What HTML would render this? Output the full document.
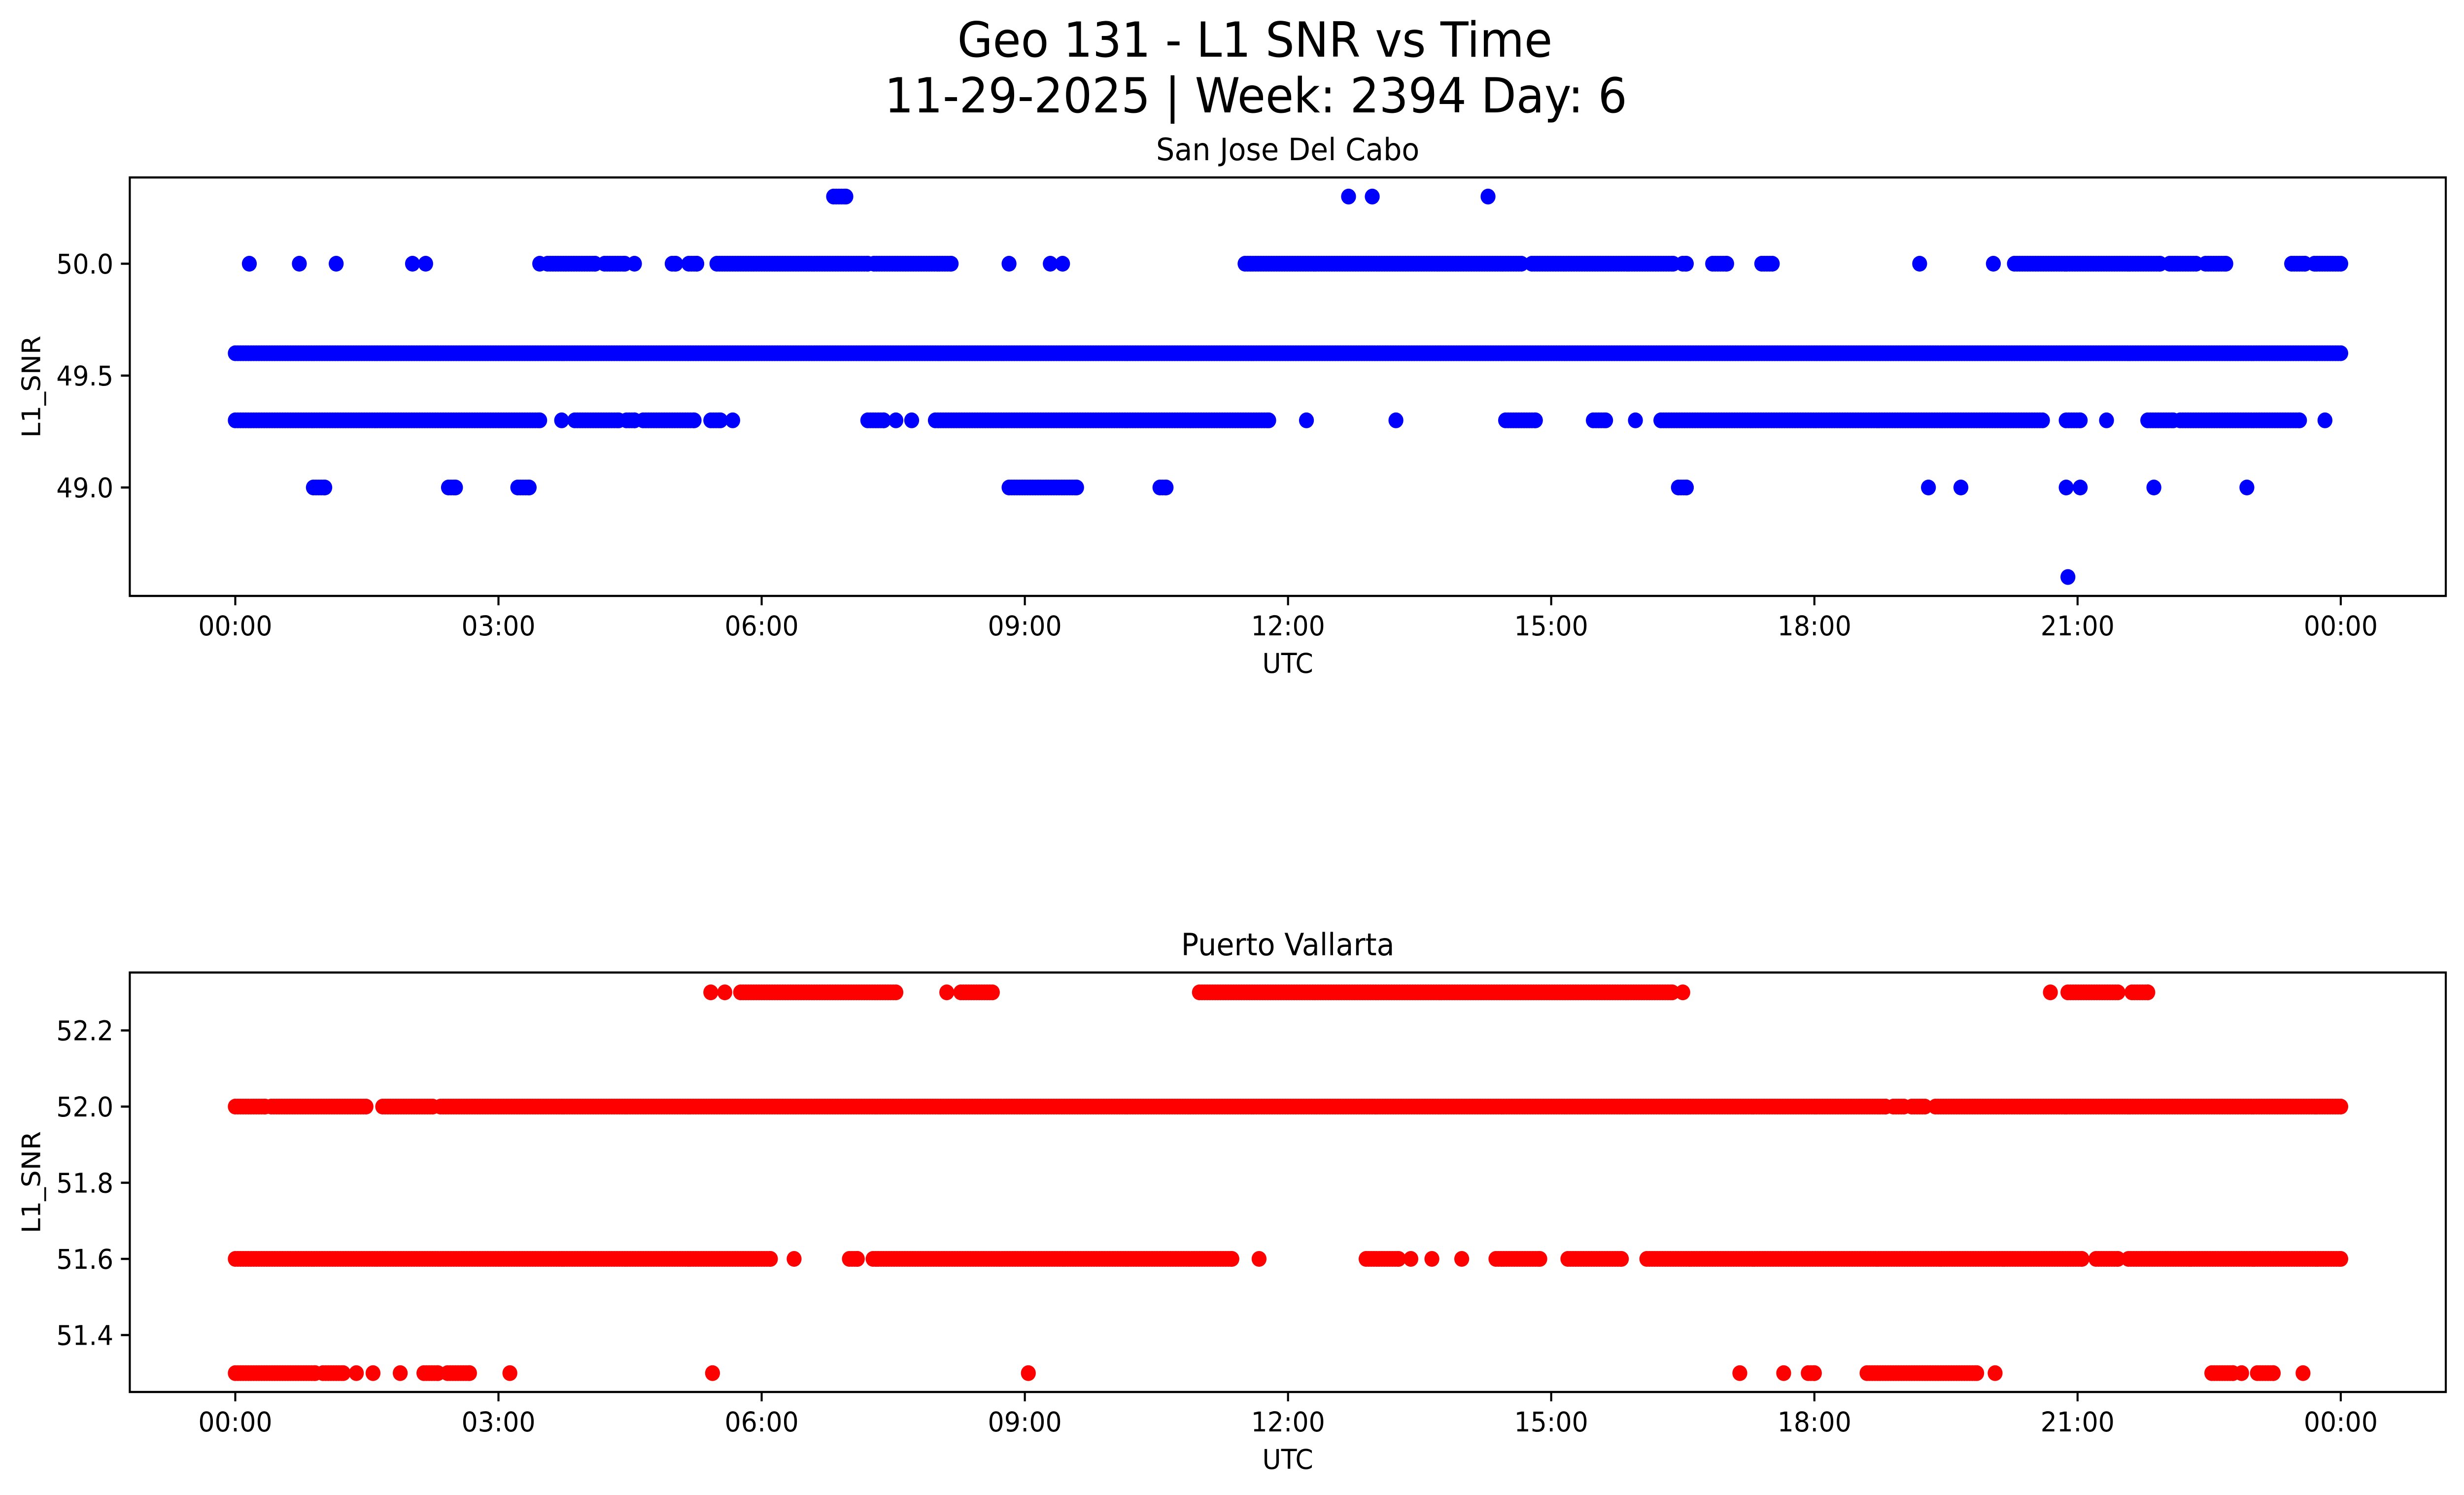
<!DOCTYPE html>
<html><head><meta charset="utf-8"><style>
html,body{margin:0;padding:0;background:#fff;overflow:hidden;width:100%;height:100%;}
svg{display:block;position:absolute;left:0;top:0;width:100vw;height:100vh;font-family:"DejaVu Sans","Liberation Sans",sans-serif;}
</style></head><body>
<svg id="fig" viewBox="0 0 5278 3033" preserveAspectRatio="none" xmlns="http://www.w3.org/2000/svg">
<rect width="5278" height="3033" fill="#fff"/>
<text x="2688" y="115" font-size="98" text-anchor="middle">Geo 131 - L1 SNR vs Time</text>
<text x="2690" y="228" font-size="98" text-anchor="middle">11-29-2025 | Week: 2394 Day: 6</text>
<g id="p1"></g>
<g id="p2"></g>
</svg>
<script>
// time ticks (hours)
const tickHours = [0,3,6,9,12,15,18,21,24];
const tickLabels = ["00:00","03:00","06:00","09:00","12:00","15:00","18:00","21:00","00:00"];
// Panel 1: San Jose Del Cabo — levels and [start,end] hour intervals
const sjLevels = [50.3, 50.0, 49.6, 49.3, 49.0, 48.6];
const sj503 = [[6.82,6.96],[12.69,12.69],[12.96,12.96],[14.28,14.28]];
const sj500 = [[0.16,0.16],[0.73,0.73],[1.15,1.15],[2.02,2.02],[2.17,2.17],[3.47,3.47],[3.56,4.10],[4.21,4.44],[4.55,4.55],[4.98,5.02],[5.17,5.26],[5.49,7.21],[7.28,8.16],[8.82,8.82],[9.29,9.29],[9.43,9.43],[11.51,14.66],[14.78,16.39],[16.50,16.54],[16.84,17.00],[17.40,17.52],[19.20,19.20],[20.04,20.04],[20.28,21.94],[22.05,22.35],[22.46,22.69],[23.44,23.59],[23.70,24]];
const sj496 = [[0,24]];
const sj493 = [[0,3.47],[3.72,3.72],[3.87,4.37],[4.46,4.55],[4.65,5.23],[5.42,5.53],[5.67,5.67],[7.21,7.39],[7.53,7.53],[7.71,7.71],[7.98,11.78],[12.21,12.21],[13.23,13.23],[14.48,14.82],[15.48,15.62],[15.96,15.96],[16.25,20.60],[20.87,21.03],[21.33,21.33],[21.80,22.09],[22.17,23.53],[23.82,23.82]];
const sj490 = [[0.89,1.02],[2.43,2.51],[3.22,3.35],[8.82,9.59],[10.54,10.61],[16.45,16.54],[19.30,19.30],[19.67,19.67],[20.87,20.87],[21.03,21.03],[21.87,21.87],[22.93,22.93]];
const sj486 = [[20.89,20.89]];
const sjSeries = [sj503, sj500, sj496, sj493, sj490, sj486];
const sjYTicks = [49.0, 49.5, 50.0];
const sjYLabels = ["49.0","49.5","50.0"];
// Panel 2: Puerto Vallarta
const pvLevels = [52.3, 52.0, 51.6, 51.3];
const pv523 = [[5.42,5.42],[5.58,5.58],[5.76,7.53],[8.11,8.11],[8.27,8.63],[10.99,16.38],[16.50,16.50],[20.69,20.69],[20.89,21.46],[21.62,21.80]];
const pv520 = [[0,0.34],[0.41,1.49],[1.68,2.25],[2.34,18.81],[18.90,19.02],[19.11,19.26],[19.38,24]];
const pv516 = [[0,6.10],[6.37,6.37],[7.00,7.09],[7.27,11.36],[11.67,11.67],[12.89,13.26],[13.40,13.40],[13.64,13.64],[13.98,13.98],[14.37,14.87],[15.19,15.80],[16.09,21.05],[21.21,21.46],[21.58,24]];
const pv513 = [[0,0.91],[1.00,1.23],[1.38,1.38],[1.57,1.57],[1.88,1.88],[2.15,2.31],[2.42,2.67],[3.13,3.13],[5.44,5.44],[9.04,9.04],[17.15,17.15],[17.65,17.65],[17.93,18.00],[18.60,19.85],[20.06,20.06],[22.53,22.77],[22.87,22.87],[23.05,23.23],[23.57,23.57]];
const pvSeries = [pv523, pv520, pv516, pv513];
const pvYTicks = [51.4, 51.6, 51.8, 52.0, 52.2];
const pvYLabels = ["51.4","51.6","51.8","52.0","52.2"];

const NS = "http://www.w3.org/2000/svg";
const X0 = 504, X24 = 5014;
function xScale(h){ return X0 + (X24 - X0) * h / 24; }
function mk(tag, attrs, parent){
  const e = document.createElementNS(NS, tag);
  for (const k in attrs) e.setAttribute(k, attrs[k]);
  parent.appendChild(e);
  return e;
}
function panel(g, cfg){
  const {top, bottom, yScale, levels, series, yTicks, yLabels, color, title} = cfg;
  const L = 278, R = 5239;
  const marks = mk('g', {}, g);
  
  
  series.forEach((ints, i) => {
    const y = yScale(levels[i]);
    ints.forEach(iv => {
      const step = 0.03;
      for (let h = iv[0]; h <= iv[1] + 1e-9; h += step) {
        const c = mk('circle', {cx: xScale(h), cy: y, r: 16, fill: color}, marks);
        
        
      }
      if ((iv[1] - iv[0]) % step > 0.001) {
        const c = mk('circle', {cx: xScale(iv[1]), cy: y, r: 16, fill: color}, marks);
        
        
      }
    });
  });
  const frame = mk('rect', {x: L, y: top, width: R - L, height: bottom - top, fill: 'none', stroke: '#000', 'stroke-width': 4.4}, g);
  
  
  tickHours.forEach((h, i) => {
    const x = xScale(h);
    mk('line', {x1: x, x2: x, y1: bottom, y2: bottom + 19, stroke: '#000', 'stroke-width': 4.4}, g);
    const t = mk('text', {x: x, y: bottom + 80, 'font-size': 55, 'text-anchor': 'middle'}, g);
    t.textContent = tickLabels[i];
    
    
  });
  yTicks.forEach((v, i) => {
    const y = yScale(v);
    mk('line', {x1: L - 19, x2: L, y1: y, y2: y, stroke: '#000', 'stroke-width': 4.4}, g);
    const t = mk('text', {x: L - 35, y: y + 20, 'font-size': 55, 'text-anchor': 'end'}, g);
    t.textContent = yLabels[i];
    
    
  });
  const xl = mk('text', {x: (L + R) / 2, y: bottom + 156, 'font-size': 55, 'text-anchor': 'middle'}, g);
  xl.textContent = 'UTC';
  
  
  const cy = (top + bottom) / 2;
  const yl = mk('text', {x: 0, y: 0, 'font-size': 55, 'text-anchor': 'middle', transform: `translate(86 ${cy}) rotate(-90)`}, g);
  yl.textContent = 'L1_SNR';
  
  
  const tt = mk('text', {x: (L + R) / 2, y: top - 35, 'font-size': 62, 'text-anchor': 'middle'}, g);
  tt.textContent = title;
  
  
}
panel(document.getElementById('p1'), {
  top: 360, bottom: 1209, yScale: v => 535 - (v - 50) * 454,
  levels: sjLevels, series: sjSeries, yTicks: sjYTicks, yLabels: sjYLabels,
  color: '#0000ff', title: 'San Jose Del Cabo'
});
panel(document.getElementById('p2'), {
  top: 1973, bottom: 2824, yScale: v => 2245 - (v - 52) * 772.5,
  levels: pvLevels, series: pvSeries, yTicks: pvYTicks, yLabels: pvYLabels,
  color: '#ff0000', title: 'Puerto Vallarta'
});
</script>
</body></html>
